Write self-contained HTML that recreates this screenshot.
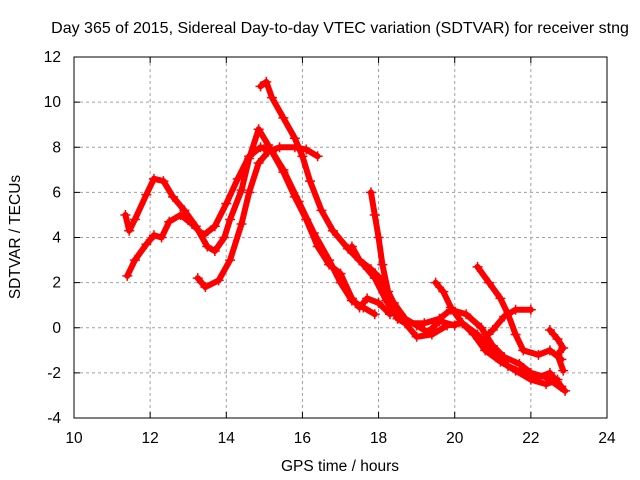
<!DOCTYPE html>
<html><head><meta charset="utf-8"><style>
body{margin:0;background:#fff}
svg{display:block;font-family:"Liberation Sans",sans-serif;font-size:15.5px}
</style></head><body>
<svg id="chart" width="640" height="480" viewBox="0 0 640 480">
<text x="340" y="33" text-anchor="middle" fill="#000" style="font-size:16px">Day 365 of 2015, Sidereal Day-to-day VTEC variation (SDTVAR) for receiver stng</text>
<g id="grid"></g>
<g id="series"></g>
<rect x="74" y="57" width="533" height="361" fill="none" stroke="#000" stroke-width="1"/>
<g id="ticks"></g>
<text x="340" y="471" text-anchor="middle">GPS time / hours</text>
<text transform="translate(20,237) rotate(-90)" text-anchor="middle">SDTVAR / TECUs</text>
</svg>
<script>
const xTicks=[10,12,14,16,18,20,22,24];
const yTicks=[-4,-2,0,2,4,6,8,10,12];
const track1=[[11.35,5.0],[11.45,4.3],[11.6,4.8],[11.9,5.9],[12.1,6.6],[12.35,6.5],[12.6,5.8],[12.9,5.2],[13.2,4.5],[13.5,3.6],[13.7,3.4],[13.95,4.0],[14.1,4.8],[14.4,6.1],[14.6,7.5],[14.85,8.8],[15.1,8.1],[15.5,7.0],[15.9,5.6],[16.3,4.2],[16.7,3.0],[17.0,2.0],[17.3,1.2],[17.6,0.9],[17.9,0.6]];
const track2=[[11.4,2.3],[11.6,3.0],[11.9,3.7],[12.1,4.1],[12.3,4.0],[12.5,4.7],[12.8,5.0],[13.1,4.6],[13.4,4.1],[13.7,4.5],[14.0,5.5],[14.3,6.6],[14.6,7.6],[14.9,8.0],[15.2,7.8],[15.5,6.9],[15.8,5.8],[16.1,4.8],[16.4,3.6],[16.7,2.8],[17.0,2.4],[17.3,1.3],[17.5,0.9],[17.7,1.3],[18.0,1.1],[18.3,0.6]];
const track3=[[13.25,2.2],[13.45,1.8],[13.8,2.1],[14.1,3.0],[14.4,4.6],[14.6,6.0],[14.85,7.3],[15.1,7.8],[15.4,8.0],[15.8,8.0],[16.1,7.9],[16.4,7.6]];
const track4=[[14.9,10.7],[15.05,10.9],[15.2,10.2],[15.5,9.3],[15.8,8.4],[16.0,7.6],[16.2,6.5],[16.5,5.2],[16.8,4.3],[17.2,3.5],[17.6,2.8],[17.9,2.2],[18.2,1.2],[18.5,0.4],[18.7,0.2],[19.0,-0.4],[19.4,-0.3],[19.8,0.1],[20.2,0.2],[20.6,-0.3],[21.0,-1.1],[21.4,-1.7],[21.8,-2.0],[22.2,-2.2],[22.5,-2.0],[22.8,-2.6]];
const track5=[[17.8,6.0],[17.9,5.0],[18.0,4.0],[18.1,2.8],[18.25,1.6],[18.4,0.7],[18.7,0.2],[19.2,0.2],[19.6,0.4],[19.9,0.8],[20.3,0.6],[20.7,0.0],[21.0,-0.8],[21.3,-1.3],[21.7,-1.6],[22.0,-2.0],[22.4,-2.2],[22.9,-2.8]];
const track6=[[17.3,3.6],[17.5,3.0],[17.8,2.6],[18.1,2.1],[18.4,1.1],[18.7,0.4],[19.0,0.1],[19.3,-0.2],[19.6,0.3],[20.0,0.1]];
const track7=[[19.5,2.0],[19.7,1.6],[19.9,0.9],[20.2,0.2],[20.5,-0.3],[20.8,-1.0],[21.2,-1.5],[21.6,-1.9],[22.0,-2.3],[22.4,-2.5],[22.7,-2.3]];
const track8=[[20.6,2.7],[20.9,2.0],[21.2,1.3],[21.4,0.6],[21.6,-0.3],[21.8,-1.0],[22.2,-1.2],[22.5,-1.0],[22.8,-1.4]];
const track9=[[20.7,-0.6],[21.0,-0.1],[21.3,0.5],[21.6,0.8],[22.0,0.8]];
const track10=[[22.5,-0.1],[22.7,-0.5],[22.85,-0.9],[22.7,-1.2],[22.85,-1.9]];
const tracks=[track1,track2,track3,track4,track5,track6,track7,track8,track9,track10];

const X0=74,X1=607,Y0=418,Y1=57;
const xs=h=>X0+(h-10)/(24-10)*(X1-X0);
const ys=v=>Y0-(v+4)/(12+4)*(Y0-Y1);
const NS="http://www.w3.org/2000/svg";
const grid=document.getElementById('grid'),ticks=document.getElementById('ticks'),ser=document.getElementById('series');
function mk(t,a,p){const e=document.createElementNS(NS,t);for(const k in a)e.setAttribute(k,a[k]);p.appendChild(e);return e;}
xTicks.forEach(t=>{
  const x=xs(t);
  if(t>10&&t<24){const g=mk('line',{x1:x,x2:x,y1:Y1,y2:Y0,stroke:'#a0a0a0','stroke-dasharray':'3,3'},grid);
  
  }
  mk('line',{x1:x,x2:x,y1:Y0,y2:Y0-6,stroke:'#000'},ticks);
  mk('line',{x1:x,x2:x,y1:Y1,y2:Y1+6,stroke:'#000'},ticks);
  const l=mk('text',{x:x,y:443,'text-anchor':'middle'},ticks);l.textContent=t;
  
  
});
yTicks.forEach(t=>{
  const y=ys(t);
  if(t>-4&&t<12){const g=mk('line',{x1:X0,x2:X1,y1:y,y2:y,stroke:'#a0a0a0','stroke-dasharray':'3,3'},grid);
  
  }
  mk('line',{x1:X0,x2:X0+6,y1:y,y2:y,stroke:'#000'},ticks);
  mk('line',{x1:X1,x2:X1-6,y1:y,y2:y,stroke:'#000'},ticks);
  const l=mk('text',{x:61,y:y+5,'text-anchor':'end'},ticks);l.textContent=t;
  
  
});
tracks.forEach((tr,i)=>{
  const pts=tr.map(p=>xs(p[0])+','+ys(p[1])).join(' ');
  const pl=mk('polyline',{points:pts,fill:'none',stroke:'#ff0000','stroke-width':6,'stroke-linejoin':'round','stroke-linecap':'round'},ser);
  
  
  tr.forEach(p=>{
    const x=xs(p[0]),y=ys(p[1]);
    const m=mk('path',{d:`M${x-5},${y}H${x+5}M${x},${y-5}V${y+5}`,stroke:'#ff0000','stroke-width':1.5},ser);
    
    
  });
});
</script>
</body></html>
